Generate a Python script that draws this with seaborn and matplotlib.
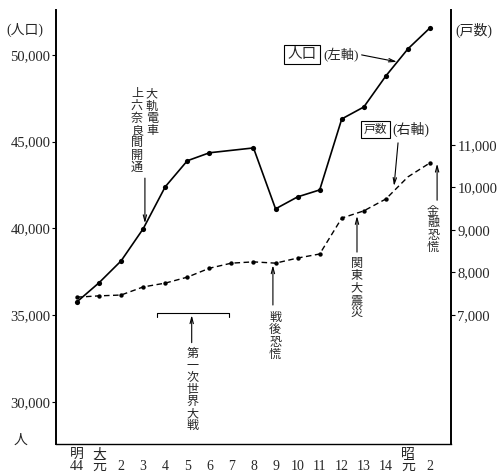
import numpy as np
import pandas as pd
import seaborn as sns
import matplotlib.pyplot as plt

# 年次（明治44年〜昭和2年）
labels = ["明\n44", "大\n元", "\n2", "\n3", "\n4", "\n5", "\n6", "\n7", "\n8",
          "\n9", "\n10", "\n11", "\n12", "\n13", "\n14", "昭\n元", "\n2"]

# 人口（左軸）  大正7年は点なし
pop = [35770, 36870, 38130, 39980, 42400, 43900, 44360, np.nan, 44640,
       41130, 41820, 42220, 46310, 47000, 48790, 50350, 51560]

# 戸数（右軸）
hh = [7420, 7450, 7470, 7660, 7750, 7890, 8100, 8220, 8250,
      8220, 8340, 8435, 9280, 9450, 9730, 10250, 10580]
hh_dot = [1] * 15 + [0, 1]

df = pd.DataFrame({"x": range(len(labels)), "pop": pop, "hh": hh, "dot": hh_dot})

sns.set_style("white")
plt.rcParams["font.family"] = ["Liberation Serif", "Noto Sans CJK JP"]

fig = plt.figure(figsize=(4.99, 4.74), dpi=100)
ax = fig.add_axes([0.1122, 0.0633, 0.7916, 0.9157])
ax2 = ax.twinx()

p = df.dropna(subset=["pop"])
sns.lineplot(data=p, x="x", y="pop", ax=ax, color="black", lw=1.2)
sns.scatterplot(data=p, x="x", y="pop", ax=ax, color="black", s=14, linewidth=0)

sns.lineplot(data=df, x="x", y="hh", ax=ax2, color="black", lw=1.0, ls=(0, (4, 2.5)))
sns.scatterplot(data=df[df["dot"] == 1], x="x", y="hh", ax=ax2, color="black", s=10, linewidth=0)

ax.set_xlim(-0.95, 16.95)
ax.set_ylim(27580, 52590)
ax2.set_ylim(3965, 14177)

ax.set_xticks(range(len(labels)))
ax.set_xticklabels(labels, fontsize=10, linespacing=0.85)
ax.set_yticks(range(30000, 50001, 5000))
ax.set_yticklabels([f"{v:,}" for v in range(30000, 50001, 5000)], fontsize=10.5)
ax2.set_yticks(range(7000, 11001, 1000))
ax2.set_yticklabels([f"{v:,}" for v in range(7000, 11001, 1000)], fontsize=10.5)
ax.set_xlabel("")
ax.set_ylabel("")
ax2.set_ylabel("")

ax.tick_params(axis="x", direction="in", length=3, pad=3, color="black")
ax.tick_params(axis="y", direction="out", length=3, pad=1, color="black", left=True)
ax2.tick_params(axis="y", direction="out", length=3, pad=1.5, color="black", right=True)

for s in ["top", "right"]:
    ax.spines[s].set_visible(False)
for s in ["top", "left", "bottom"]:
    ax2.spines[s].set_visible(False)
ax.spines["left"].set_linewidth(1.4)
ax.spines["bottom"].set_linewidth(1.0)
ax2.spines["right"].set_linewidth(1.4)
for a in (ax, ax2):
    for sp in a.spines.values():
        sp.set_color("black")

fig.text(25 / 499, 1 - 30 / 474, "(人口)", ha="center", va="center", fontsize=10)
fig.text(474 / 499, 1 - 30 / 474, "(戸数)", ha="center", va="center", fontsize=10)
fig.text(20 / 499, 1 - 440 / 474, "人", ha="center", va="center", fontsize=10)

arrow = dict(arrowstyle="->,head_length=0.45,head_width=0.12", lw=0.8, color="black",
             shrinkA=0, shrinkB=0)


def vtext(axis, x, y, s, step=12.3, size=8.7):
    for i, ch in enumerate(s):
        axis.annotate(ch, (x, y), xytext=(0, -i * step * 0.72), textcoords="offset points",
                      ha="center", va="top", fontsize=size)


# 大軌電車 上六奈良間開通
vtext(ax, 3.40, 48100, "大軌電車", step=12.5)
vtext(ax, 2.72, 48100, "上六奈良間開通", step=12.4)
ax.annotate("", xy=(3.08, 40300), xytext=(3.08, 42900), arrowprops=arrow)

# 人口（左軸）
ax.text(10.2, 50000, "人口", ha="center", va="center", fontsize=10.5,
        bbox=dict(boxstyle="square,pad=0.2", fc="white", ec="black", lw=0.8))
ax.text(11.97, 50000, "(左軸)", ha="center", va="center", fontsize=9.5)
ax.annotate("", xy=(14.5, 49600), xytext=(12.9, 50000), arrowprops=arrow)

# 戸数（右軸）
ax2.text(13.53, 11365, "戸数", ha="center", va="center", fontsize=8.5,
         bbox=dict(boxstyle="square,pad=0.2", fc="white", ec="black", lw=0.8))
ax2.text(15.14, 11365, "(右軸)", ha="center", va="center", fontsize=10)
ax2.annotate("", xy=(14.37, 10035), xytext=(14.55, 11050), arrowprops=arrow)

# 金融恐慌
vtext(ax2, 16.14, 9590, "金融恐慌")
ax2.annotate("", xy=(16.32, 10560), xytext=(16.32, 9700), arrowprops=arrow)

# 関東大震災
vtext(ax2, 12.69, 8340, "関東大震災")
ax2.annotate("", xy=(12.69, 9330), xytext=(12.69, 8480), arrowprops=arrow)

# 戦後恐慌
vtext(ax2, 8.98, 7070, "戦後恐慌")
ax2.annotate("", xy=(8.88, 8170), xytext=(8.88, 7235), arrowprops=arrow)

# 第一次世界大戦
vtext(ax, 5.26, 33120, "第一次世界大戦", step=12.1)
ax.plot([3.63, 3.63, 6.89, 6.89], [34900, 35140, 35140, 34900], color="black", lw=0.8)
ax.annotate("", xy=(5.2, 35000), xytext=(5.2, 33420), arrowprops=arrow)

fig.savefig("out.png", dpi=100)
